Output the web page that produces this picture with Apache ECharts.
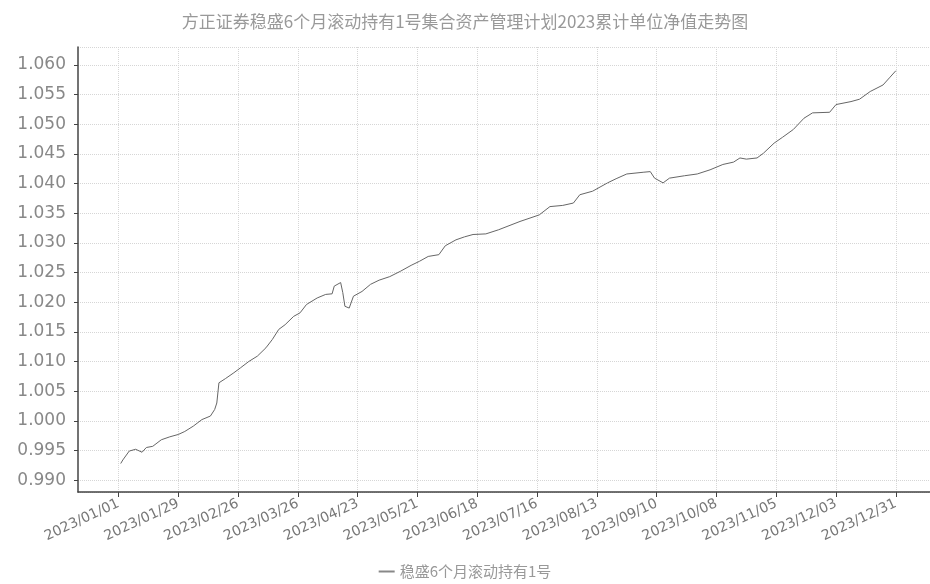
<!DOCTYPE html>
<html>
<head>
<meta charset="utf-8">
<script src="https://cdn.jsdelivr.net/npm/echarts@6/dist/echarts.min.js"></script>
<style>
  html, body { margin: 0; background: #fff; }
  #main { width: 930px; height: 584px; }
</style>
</head>
<body>
<div id="main"></div>
<script>
  var titleText = '方正证券稳盛6个月滚动持有1号集合资产管理计划2023累计单位净值走势图';
  var seriesName = '稳盛6个月滚动持有1号';

  // labelled ticks on the date axis (every 28 days)
  var tickDates = ['2023/01/01', '2023/01/29', '2023/02/26', '2023/03/26', '2023/04/23', '2023/05/21',
    '2023/06/18', '2023/07/16', '2023/08/13', '2023/09/10', '2023/10/08', '2023/11/05',
    '2023/12/03', '2023/12/31'];

  // net value
  var navDates = ['2023/01/02', '2023/01/03', '2023/01/06', '2023/01/09', '2023/01/12', '2023/01/14',
    '2023/01/17', '2023/01/21', '2023/01/25', '2023/01/29', '2023/02/01', '2023/02/05', '2023/02/09',
    '2023/02/13', '2023/02/15', '2023/02/16', '2023/02/17', '2023/02/20', '2023/02/24', '2023/02/27',
    '2023/03/03', '2023/03/07', '2023/03/11', '2023/03/14', '2023/03/17', '2023/03/20', '2023/03/24',
    '2023/03/27', '2023/03/30', '2023/04/04', '2023/04/08', '2023/04/11', '2023/04/12', '2023/04/15',
    '2023/04/16', '2023/04/17', '2023/04/19', '2023/04/21', '2023/04/25', '2023/04/29', '2023/05/03',
    '2023/05/08', '2023/05/13', '2023/05/18', '2023/05/22', '2023/05/26', '2023/05/31', '2023/06/03',
    '2023/06/08', '2023/06/12', '2023/06/16', '2023/06/22', '2023/06/28', '2023/07/08', '2023/07/17',
    '2023/07/22', '2023/07/28', '2023/08/02', '2023/08/05', '2023/08/11', '2023/08/18', '2023/08/22',
    '2023/08/27', '2023/09/04', '2023/09/07', '2023/09/09', '2023/09/13', '2023/09/16', '2023/09/23',
    '2023/09/29', '2023/10/05', '2023/10/11', '2023/10/16', '2023/10/19', '2023/10/22', '2023/10/27',
    '2023/10/30', '2023/11/04', '2023/11/08', '2023/11/13', '2023/11/18', '2023/11/22', '2023/11/30',
    '2023/12/03', '2023/12/10', '2023/12/14', '2023/12/19', '2023/12/25', '2023/12/28', '2023/12/31'];
  var navValues = [0.9928, 0.9934, 0.9949, 0.9952, 0.9947, 0.9955,
    0.9957, 0.9968, 0.9973, 0.9977, 0.9982, 0.9991, 1.0002,
    1.0008, 1.0019, 1.0030, 1.0064, 1.0071, 1.0081, 1.0089,
    1.0100, 1.0109, 1.0123, 1.0137, 1.0154, 1.0162, 1.0176,
    1.0182, 1.0196, 1.0207, 1.0213, 1.0214, 1.0227, 1.0233,
    1.0216, 1.0193, 1.0190, 1.0210, 1.0218, 1.0230, 1.0237,
    1.0243, 1.0252, 1.0262, 1.0269, 1.0277, 1.0280, 1.0295,
    1.0305, 1.0310, 1.0314, 1.0315, 1.0322, 1.0336, 1.0347,
    1.0361, 1.0363, 1.0367, 1.0381, 1.0387, 1.0401, 1.0408,
    1.0416, 1.0419, 1.0420, 1.0409, 1.0401, 1.0409, 1.0413,
    1.0416, 1.0423, 1.0432, 1.0436, 1.0443, 1.0441, 1.0443,
    1.0451, 1.0468, 1.0478, 1.0491, 1.0510, 1.0519, 1.0520,
    1.0533, 1.0538, 1.0542, 1.0555, 1.0566, 1.0578, 1.0590];

  // one category per calendar day, so the axis runs like a date scale
  function fmt(d) {
    var m = d.getUTCMonth() + 1, day = d.getUTCDate();
    return d.getUTCFullYear() + '/' + (m < 10 ? '0' + m : m) + '/' + (day < 10 ? '0' + day : day);
  }
  var axisDays = [];
  var cur = Date.UTC(2022, 11, 13);
  var last = Date.UTC(2024, 0, 16);
  while (cur <= last) {
    axisDays.push(fmt(new Date(cur)));
    cur += 86400000;
  }
  function isTick(idx, value) {
    return tickDates.indexOf(value) >= 0;
  }

  var chart = echarts.init(document.getElementById('main'));
  chart.setOption({
    animation: false,
    backgroundColor: '#fff',
    title: {
      text: titleText,
      left: 'center',
      top: 8,
      textStyle: {
        fontSize: 17,
        fontWeight: 'normal',
        color: '#999',
        fontFamily: 'Noto Sans CJK SC'
      }
    },
    legend: {
      bottom: 0,
      left: 'center',
      itemWidth: 16,
      itemHeight: 2,
      data: [{name: seriesName, icon: 'rect'}],
      textStyle: {
        fontSize: 15,
        color: '#999',
        fontFamily: 'Noto Sans CJK SC'
      }
    },
    grid: {
      left: 78,
      right: 0,
      top: 47,
      bottom: 92
    },
    xAxis: {
      type: 'category',
      boundaryGap: false,
      data: axisDays,
      axisLine: {
        lineStyle: {color: '#444', width: 1.5}
      },
      axisTick: {
        interval: isTick,
        length: 5,
        lineStyle: {color: '#444'}
      },
      axisLabel: {
        interval: isTick,
        rotate: 25,
        margin: 11,
        fontSize: 14,
        color: '#777',
        fontFamily: 'DejaVu Sans'
      },
      splitLine: {
        show: true,
        interval: isTick,
        lineStyle: {color: '#d6d6d6', type: 'dotted'}
      }
    },
    yAxis: {
      type: 'value',
      min: 0.988,
      max: 1.063,
      splitNumber: 15,
      minInterval: 0.005,
      maxInterval: 0.005,
      axisLine: {
        show: true,
        lineStyle: {color: '#444', width: 1.5}
      },
      axisTick: {
        show: true,
        length: 4,
        lineStyle: {color: '#444'}
      },
      axisLabel: {
        showMinLabel: false,
        showMaxLabel: false,
        margin: 12,
        fontSize: 17,
        color: '#888',
        fontFamily: 'DejaVu Sans',
        formatter: function (v) { return v.toFixed(3); }
      },
      splitLine: {
        lineStyle: {color: '#d6d6d6', type: 'dotted'}
      }
    },
    series: [{
      name: seriesName,
      type: 'line',
      data: navDates.map(function (t, i) { return [t, navValues[i]]; }),
      showSymbol: false,
      lineStyle: {color: '#666', width: 1},
      itemStyle: {color: '#888'}
    }]
  });
</script>
</body>
</html>
